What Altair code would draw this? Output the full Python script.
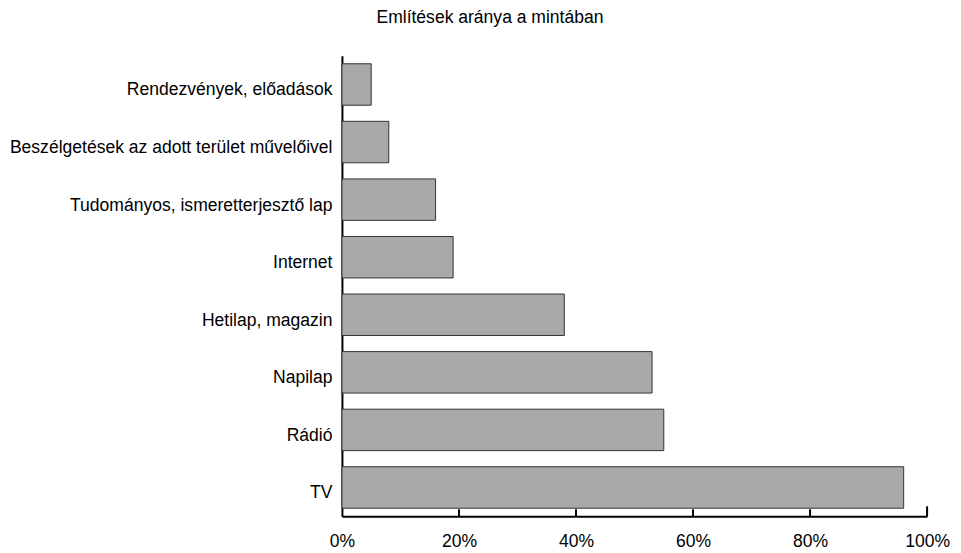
import altair as alt
import pandas as pd

categories = ["Rendezvények, előadások", "Beszélgetések az adott terület művelőivel",
              "Tudományos, ismeretterjesztő lap", "Internet", "Hetilap, magazin",
              "Napilap", "Rádió", "TV"]
values = [5, 8, 16, 19, 38, 53, 55, 96]
tick_values = [0, 20, 40, 60, 80, 100]
inner_ticks = [20, 40, 60, 80]
end_tick = [100]

df = pd.DataFrame({"cat": categories, "val": values})
ticks_df = pd.DataFrame({"t": inner_ticks})
end_df = pd.DataFrame({"t": end_tick})

FONT = "Liberation Sans"

xscale = alt.Scale(domain=[0, 100], nice=False, zero=True)

bars = alt.Chart(df).mark_bar(fill="#a9a9a9", stroke="#333333", strokeWidth=1).encode(
    y=alt.Y("cat:N", sort=categories, title=None,
            scale=alt.Scale(paddingInner=0.28, paddingOuter=0.14),
            axis=alt.Axis(domain=True, domainColor="black", domainWidth=2, ticks=False,
                          grid=False, labelFont=FONT, labelFontSize=17.6, labelColor="black",
                          labelPadding=10, labelLimit=400, labelOffset=6)),
    x=alt.X("val:Q", scale=xscale, title=None,
            axis=alt.Axis(values=tick_values, domain=True, domainColor="black", domainWidth=2,
                          ticks=False, grid=False, labelFont=FONT, labelFontSize=17.6,
                          labelColor="black", labelPadding=16,
                          labelExpr="datum.value + '%'", labelFlush=False)),
)

tick_rules = alt.Chart(ticks_df).mark_rule(color="black", strokeWidth=2).encode(
    x=alt.X("t:Q", scale=xscale),
    y=alt.value(455), y2=alt.value(462),
)
end_rule = alt.Chart(end_df).mark_rule(color="black", strokeWidth=2).encode(
    x=alt.X("t:Q", scale=xscale),
    y=alt.value(452), y2=alt.value(462),
)

chart = alt.layer(bars, tick_rules, end_rule).properties(
    width=587, height=462,
    view=alt.ViewBackground(stroke="transparent", strokeWidth=0),
    title=alt.TitleParams("Említések aránya a mintában", font=FONT, fontSize=17.6,
                          fontWeight="normal", color="black", anchor="middle",
                          dx=-145, offset=29),
    autosize=alt.AutoSizeParams(type="none"),
    padding={"left": 335, "top": 47, "right": 26, "bottom": 36},
).configure_view(strokeWidth=0, stroke="transparent").configure_axis(grid=False).configure(background="white")

chart.save("out.html", embed_options={"renderer": "svg", "actions": False})
